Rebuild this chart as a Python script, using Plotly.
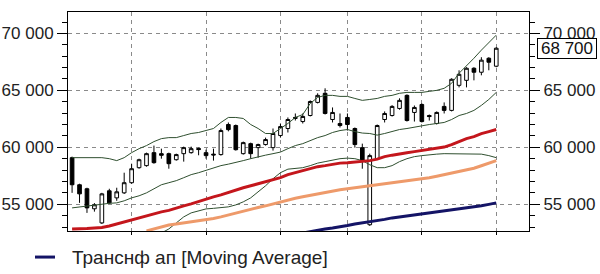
import plotly.graph_objects as go

idx = list(range(58))

opens = [59090, 56710, 56360, 54600, 53360, 56180, 55560, 56000, 56890, 58210,
         58390, 59530, 59440, 59440, 58910, 59440, 59530, 59900, 59530, 59400,
         59360, 62000, 61910, 59440, 60320, 59970, 60240, 59970, 61030, 61650,
         62530, 62260, 62790, 63940, 64740, 62440, 62090, 62620, 61650, 59970,
         53200, 59000, 62440, 62790, 63410, 64560, 63060, 63760, 62790, 62090,
         63590, 63240, 65440, 65880, 66940, 66590, 67820, 67120]
highs = [59180, 56800, 56450, 55100, 56000, 56360, 56450, 57770, 58560, 59000,
         59530, 60150, 59880, 59530, 59440, 60060, 60060, 59970, 59790, 59880,
         61650, 62180, 62000, 60500, 60410, 60320, 60850, 61650, 62090, 62620,
         62970, 62970, 64120, 64740, 65180, 63500, 62970, 62970, 61740, 60320,
         59440, 62000, 63150, 63700, 64300, 64650, 63670, 63850, 62880, 63150,
         63940, 66060, 66760, 67030, 67030, 67910, 67910, 68790]
lows = [56000, 55120, 54240, 54350, 53270, 55030, 55300, 55900, 56800, 58120,
        58300, 58560, 59000, 58120, 58830, 58740, 59440, 59300, 59000, 58830,
        59270, 61400, 59710, 59360, 59000, 59090, 60150, 59710, 60850, 61300,
        62350, 62090, 62710, 63850, 62880, 62180, 61740, 61470, 59970, 58120,
        53100, 58900, 62180, 62700, 63300, 62260, 62260, 62180, 62350, 62000,
        62970, 63150, 65260, 65260, 65880, 66320, 66760, 67030]
closes = [56710, 55910, 54680, 54950, 55910, 55120, 56090, 56890, 58120, 58910,
          59440, 58650, 59300, 58560, 59360, 59970, 59880, 59800, 59270, 59330,
          61470, 61550, 59790, 60410, 59440, 60240, 60680, 61210, 61820, 62440,
          62620, 62710, 64020, 64560, 62970, 63060, 61910, 62000, 60240, 58830,
          59270, 61910, 62970, 63590, 64120, 62350, 63500, 62260, 62700, 63060,
          63240, 65970, 66410, 66940, 66590, 67650, 67470, 68700]

bb_upper = [59090, 59090, 59090, 59090, 59090, 59000, 58830, 59090, 59530, 59880,
            60150, 60500, 60760, 60850, 60850, 61030, 61210, 61300, 61470, 61650,
            62180, 62620, 62620, 62530, 62000, 61650, 61210, 61210, 61650, 62090,
            62620, 62880, 63850, 64380, 64560, 64560, 64470, 64470, 64290, 64120,
            64200, 64290, 64470, 64560, 64740, 64820, 64820, 64820, 64910, 65000,
            65180, 65620, 66500, 67120, 67820, 68530, 69150, 69850]
bb_lower = [54680, 54770, 54860, 54940, 55030, 55080, 55120, 55300, 55560, 55740,
            56000, 56360, 56710, 56890, 57070, 57330, 57600, 57770, 57990, 58210,
            58390, 58520, 58650, 58830, 59000, 59180, 59310, 59440, 59580, 59880,
            60150, 60320, 60590, 60850, 61030, 61300, 61470, 61560, 61380, 61250,
            61210, 61070, 61210, 61380, 61560, 61650, 61780, 61910, 62000, 62090,
            62180, 62440, 62790, 62970, 63240, 63680, 64200, 64820]
ma_red = [52830, 52830, 52870, 52920, 52960, 53090, 53270, 53440, 53670, 53840,
          53970, 54150, 54330, 54460, 54680, 54860, 55030, 55250, 55430, 55650,
          55820, 56050, 56270, 56450, 56620, 56800, 56980, 57150, 57330, 57600,
          57770, 57950, 58120, 58300, 58390, 58520, 58610, 58650, 58690, 58740,
          58830, 58960, 59180, 59310, 59440, 59530, 59620, 59710, 59790, 59880,
          60020, 60240, 60500, 60760, 60940, 61200, 61380, 61560]
ma_orange = [None] * 10 + [
    52660, 52830, 53000, 53180, 53270, 53360, 53440, 53530, 53620, 53750,
    53890, 54060, 54240, 54420, 54590, 54720, 54860, 55030, 55210, 55380,
    55520, 55650, 55780, 55910, 56050, 56180, 56270, 56360, 56450, 56530,
    56620, 56710, 56800, 56890, 56980, 57020, 57110, 57240, 57330, 57460,
    57590, 57720, 57850, 57990, 58160, 58380, 58600, 58830]
ma_green = [None] * 12 + [
    52470, 52830, 53360, 53890, 54240, 54420, 54590, 54640,
    54680, 54770, 54940, 55210, 55560, 56090, 56620, 57240, 57770, 58080,
    58160, 58210, 58390, 58610, 58740, 58870, 59000, 59050, 59000, 58830,
    58470, 58210, 58210, 58390, 58740, 59000, 59180, 59270, 59360, 59400,
    59440, 59440, 59440, 59440, 59440, 59400, 59270, 59090]
ma_navy = [None] * 31 + [
    52470, 52610, 52740, 52830, 52920, 53000, 53140, 53270, 53360,
    53440, 53530, 53670, 53800, 53890, 53970, 54060, 54150, 54240, 54330,
    54420, 54500, 54550, 54680, 54770, 54860, 54990, 55120]

grid_x = [8, 18, 28, 37, 47, 57]
y_ticks = [55000, 60000, 65000, 70000]
y_labels = ["55 000", "60 000", "65 000", "70 000"]
legend_text = "Транснф ап [Moving Average]"

FONT = "Liberation Sans, Arial, sans-serif"
GREEN = "#2f4f2f"

fig = go.Figure()
fig.add_trace(go.Scatter(x=idx, y=bb_upper, mode="lines", line=dict(color=GREEN, width=1), hoverinfo="skip"))
fig.add_trace(go.Scatter(x=idx, y=bb_lower, mode="lines", line=dict(color=GREEN, width=1), hoverinfo="skip"))
fig.add_trace(go.Scatter(x=idx, y=ma_green, mode="lines", line=dict(color=GREEN, width=1), hoverinfo="skip"))
fig.add_trace(go.Scatter(x=idx, y=ma_orange, mode="lines", line=dict(color="#ee9a6a", width=3), hoverinfo="skip"))
fig.add_trace(go.Scatter(x=idx, y=ma_red, mode="lines", line=dict(color="#c4161c", width=3), hoverinfo="skip"))
fig.add_trace(go.Scatter(x=idx, y=ma_navy, mode="lines", line=dict(color="#141466", width=3),
                         name=legend_text, hoverinfo="skip"))
fig.add_trace(go.Candlestick(
    x=idx, open=opens, high=highs, low=lows, close=closes,
    increasing=dict(line=dict(color="black", width=1), fillcolor="white"),
    decreasing=dict(line=dict(color="black", width=1), fillcolor="black"),
    whiskerwidth=0,
))
# invisible companion on the right-hand axis so that it renders
fig.add_trace(go.Scatter(x=idx, y=closes, yaxis="y2", mode="lines", line=dict(width=0),
                         opacity=0, hoverinfo="skip"))

yr = [52650, 71880]
common_y = dict(
    range=yr, tickvals=y_ticks, ticktext=y_labels,
    ticks="outside", ticklen=10, tickcolor="black", tickwidth=1,
    automargin=False,
    minor=dict(tickmode="linear", tick0=0, dtick=1000, ticks="outside", ticklen=5,
               tickcolor="black", showgrid=False),
    tickfont=dict(family=FONT, size=17, color="#222"),
    zeroline=False,
)
fig.update_layout(
    width=600, height=274,
    margin=dict(l=68, r=71, t=12, b=43, autoexpand=False),
    paper_bgcolor="white", plot_bgcolor="white",
    showlegend=False,
    font=dict(family=FONT, size=17, color="#222"),
    xaxis=dict(
        range=[-0.55, 61.4], tickvals=grid_x, showticklabels=False,
        ticks="outside", ticklen=3, tickcolor="black", automargin=False,
        showgrid=True, gridcolor="#8a8a8a", griddash="4px,4px", gridwidth=1,
        showline=True, linecolor="black", linewidth=1, mirror=True,
        rangeslider=dict(visible=False), zeroline=False,
    ),
    yaxis=dict(
        **common_y, side="left",
        showgrid=True, gridcolor="#8a8a8a", griddash="4px,4px", gridwidth=1,
        showline=True, linecolor="black", linewidth=1, mirror=True,
    ),
    yaxis2=dict(**common_y, side="right", overlaying="y", showgrid=False, showline=False),
)

# last-price marker on the right axis
fig.add_annotation(
    xref="paper", yref="y", x=1.0165, y=closes[-1], xanchor="left", yanchor="middle",
    text=f"{closes[-1]:,}".replace(",", " "), showarrow=False,
    font=dict(family=FONT, size=17, color="#111"),
    width=54, height=15, align="center",
    bgcolor="white", bordercolor="black", borderwidth=1, borderpad=2,
)

# legend (line sample + label)
fig.add_shape(type="line", xref="paper", yref="paper", x0=-0.0716, x1=-0.0282, y0=-0.119, y1=-0.119,
              line=dict(color="#141466", width=3))
fig.add_annotation(
    xref="paper", yref="paper", x=0.004, y=-0.119, xanchor="left", yanchor="middle",
    text=legend_text, showarrow=False, font=dict(family=FONT, size=19, color="#222"),
)

fig.write_html("out.html")
